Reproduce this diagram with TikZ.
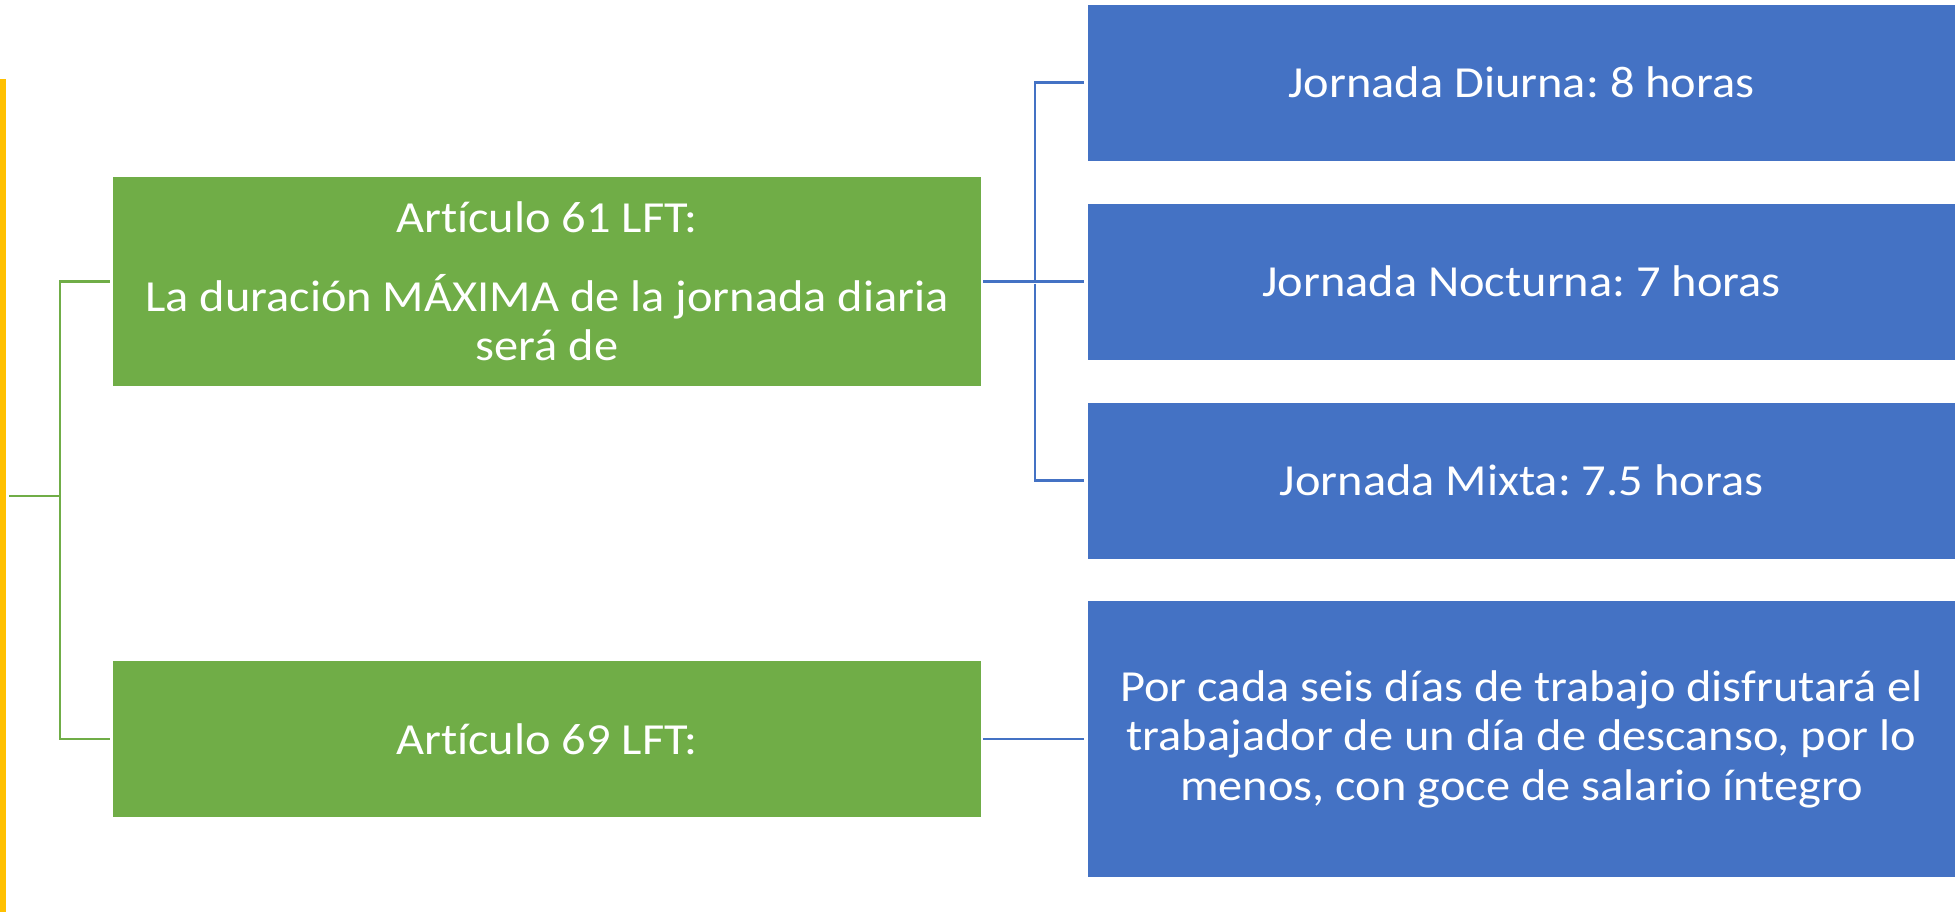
\documentclass[tikz,border=0pt]{standalone}
\usepackage{fontspec}
\setmainfont{Carlito}[FakeStretch=1.09,Ligatures=NoCommon]
\usepackage{tikz}
\usetikzlibrary{positioning}

\definecolor{ofgreen}{HTML}{70AD47}
\definecolor{ofblue}{HTML}{4472C4}
\definecolor{ofyellow}{HTML}{FFC000}

\tikzset{
  box/.style={rectangle,inner sep=0pt,minimum width=434pt,text=white,align=center,
    font=\fontsize{22.2}{24.8}\selectfont\frenchspacing},
  greenbox/.style={box,fill=ofgreen},
  bluebox/.style={box,fill=ofblue,minimum height=78pt},
  greenline/.style={draw=ofgreen,line width=1.3pt,shorten >=1.5pt},
  blueline/.style={draw=ofblue,line width=1.3pt,shorten >=1.5pt,shorten <=1pt}
}

\begin{document}
\begin{tikzpicture}[x=0.5pt,y=-0.5pt]

  \useasboundingbox (0,0) rectangle (1955,912);
  \fill[ofyellow] (0,79) rectangle (6,912);

  \node[greenbox,minimum height=104.5pt] (art61) at (547,281.5)
    {Artículo 61 LFT:\\[14.5pt] La duración MÁXIMA de la jornada diaria\\ será de};
  \node[greenbox,minimum height=78pt,below of=art61,node distance=228.75pt] (art69) {Artículo 69 LFT:};

  \node[bluebox,right of=art61,node distance=487.25pt] (noct) {Jornada Nocturna: 7 horas};
  \node[bluebox,above of=noct,node distance=99.5pt] (diur) {Jornada Diurna: 8 horas};
  \node[bluebox,below of=noct,node distance=99.5pt] (mixta) {Jornada Mixta: 7.5 horas};
  \node[bluebox,minimum height=138pt,right of=art69,node distance=487.25pt] (desc)
    {Por cada seis días de trabajo disfrutará el\\ trabajador de un día de descanso, por lo\\ menos, con goce de salario íntegro};

  \coordinate (root) at (9,496);
  \coordinate (gj) at (60,496);
  \coordinate (bj) at (1035,281.5);

  \draw[greenline] (root) -- (gj) |- (art61.west);
  \draw[greenline] (gj) |- (art69.west);

  \draw[blueline] (art61.east) -- (noct.west);
  \draw[blueline] (bj) |- (diur.west);
  \draw[blueline] (bj) |- (mixta.west);
  \draw[blueline] (art69.east) -- (desc.west);

\end{tikzpicture}
\end{document}
